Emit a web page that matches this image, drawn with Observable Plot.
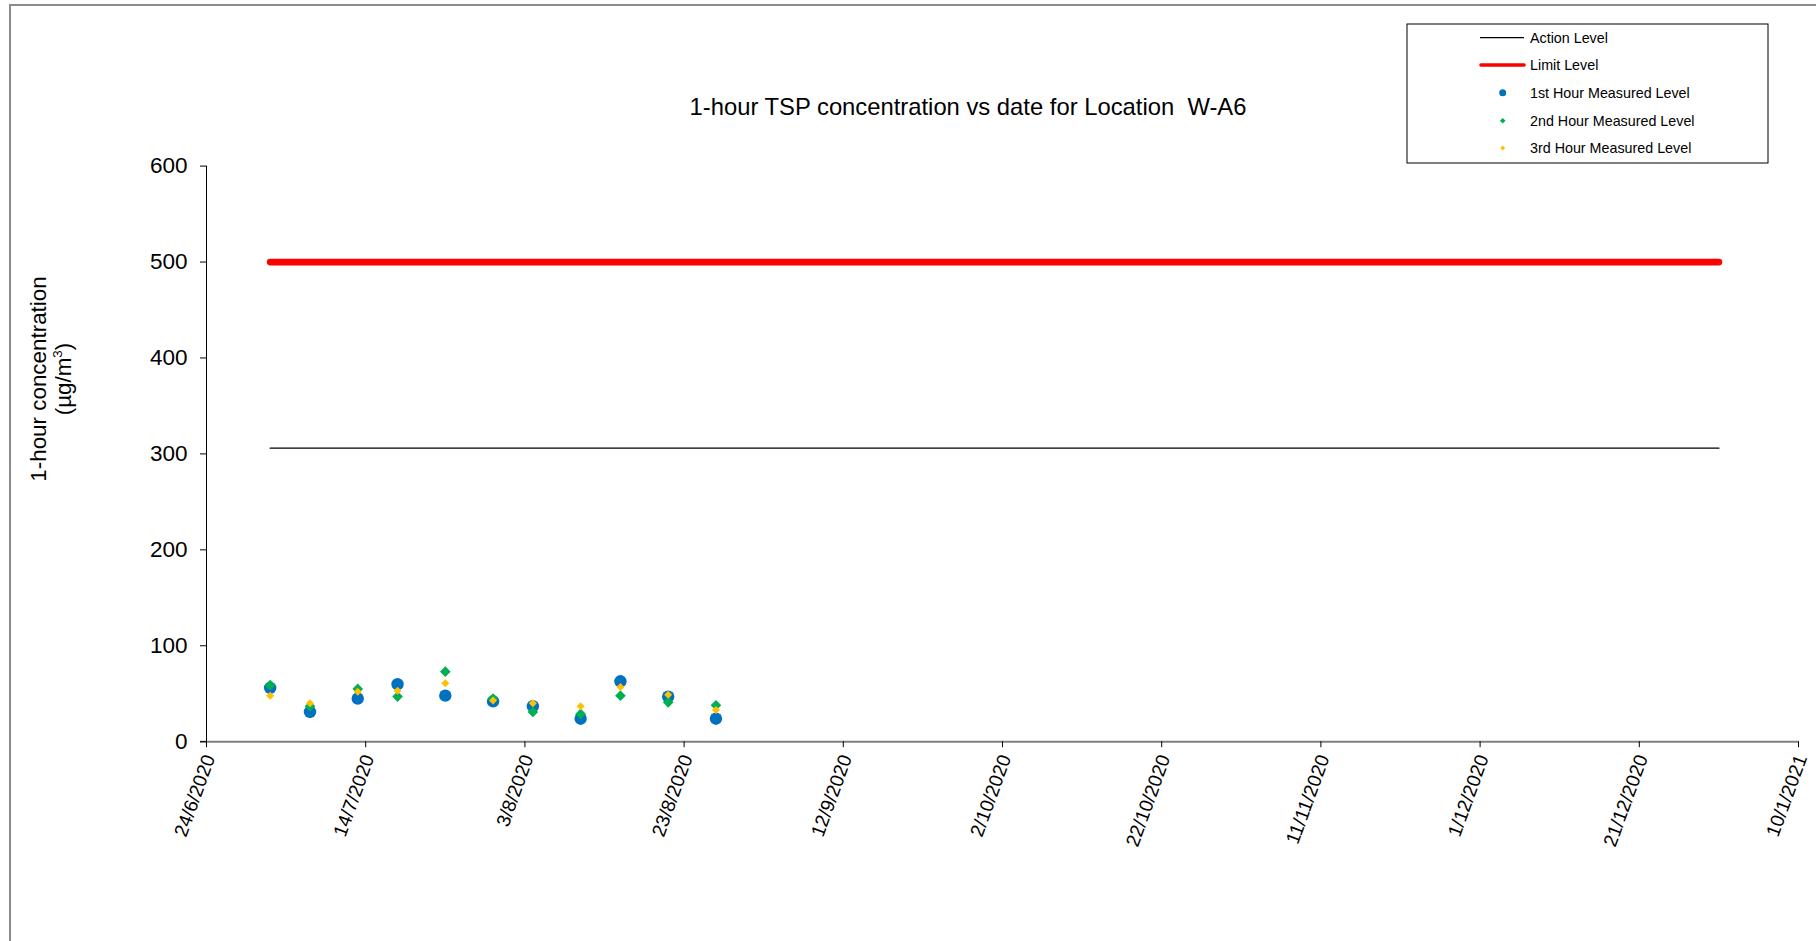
<!DOCTYPE html>
<html>
<head>
<meta charset="utf-8">
<script src="https://cdn.jsdelivr.net/npm/d3@7"></script>
<script src="https://cdn.jsdelivr.net/npm/@observablehq/plot@0.6"></script>
<style>
  body { margin: 0; background: #fff; font-family: "Liberation Sans", Arial, sans-serif; }
  #wrap { position: relative; width: 1816px; height: 941px; overflow: hidden; background: #fff; }
  #chart { position: absolute; left: 0; top: 0; }
  #border { position: absolute; left: 9px; top: 4px; width: 1900px; height: 1000px; border-left: 2px solid #8c8c8c; border-top: 2px solid #8c8c8c; box-sizing: border-box; }
  #title { position: absolute; left: 968px; top: 106.5px; transform: translate(-50%, -50%); white-space: pre; font-size: 23.8px; color: #000; }
  #ylabel { position: absolute; left: 51.4px; top: 379px; transform: translate(-50%, -50%) rotate(-90deg); white-space: nowrap; text-align: center; font-size: 22.4px; line-height: 25px; color: #000; }
  #legend { position: absolute; left: 0; top: 0; }
</style>
</head>
<body>
<div id="wrap">
  <div id="border"></div>
  <div id="chart"></div>
  <div id="title"></div>
  <div id="ylabel"></div>
  <svg id="legend" width="1816" height="200"></svg>
</div>
<script>
// ---- data ----
const titleText = "1-hour TSP concentration vs date for Location  W-A6";
const yLabelLines = ["1-hour concentration", "(µg/m³)"];
const sampleDates = ["2020-07-02", "2020-07-07", "2020-07-13", "2020-07-18", "2020-07-24", "2020-07-30",
                     "2020-08-04", "2020-08-10", "2020-08-15", "2020-08-21", "2020-08-27"];
const hour1 = [56, 31, 45, 60, 48, 42, 37, 24, 63, 47, 24];
const hour2 = [59, 37, 55, 47, 73, 45, 31, 29, 48, 41, 38];
const hour3 = [48, 40, 52, 53, 61, 43, 40, 37, 57, 49, 33];
const levelSpan = ["2020-07-02", "2020-12-31"];
const actionLevel = 306;
const limitLevel = 500;
const xTickDates = ["2020-06-24", "2020-07-14", "2020-08-03", "2020-08-23", "2020-09-12", "2020-10-02",
                    "2020-10-22", "2020-11-11", "2020-12-01", "2020-12-21", "2021-01-10"];
const yTicks = [0, 100, 200, 300, 400, 500, 600];
const legendLabels = ["Action Level", "Limit Level", "1st Hour Measured Level", "2nd Hour Measured Level", "3rd Hour Measured Level"];

// ---- build ----
const parse = d3.utcParse("%Y-%m-%d");
const fmt = d3.utcFormat("%-d/%-m/%Y");
const rows = vals => sampleDates.map((d, i) => ({date: parse(d), value: vals[i]}));
const levelRows = v => levelSpan.map(d => ({date: parse(d), value: v}));
const xTicks = xTickDates.map(parse);

const COLORS = {action: "#000000", limit: "#FF0000", h1: "#0070C0", h2: "#00B050", h3: "#FFC000"};

const chart = Plot.plot({
  width: 1816,
  height: 941,
  marginLeft: 206,
  marginRight: 18,
  marginTop: 165.6,
  marginBottom: 199.8,
  style: {fontFamily: "'Liberation Sans', Arial, sans-serif", background: "transparent", color: "#000", overflow: "visible"},
  x: {type: "utc", domain: [xTicks[0], xTicks[xTicks.length - 1]]},
  y: {domain: [0, 600]},
  marks: [
    Plot.ruleY([0], {stroke: "#808080", strokeWidth: 2, insetLeft: -6}),
    Plot.ruleX([xTicks[0]], {stroke: "#000", strokeWidth: 1}),
    Plot.axisY({ticks: yTicks, tickSize: 6, tickPadding: 13, fontSize: 22.5, label: null}),
    Plot.axisX({ticks: xTicks, tickSize: 6, tickFormat: () => "", label: null}),
    Plot.text(xTicks, {x: d => d, text: d => fmt(d), frameAnchor: "bottom", rotate: -70, textAnchor: "end",
                       lineAnchor: "middle", dx: 3, dy: 14, fontSize: 19.2, fill: "#000"}),
    Plot.line(levelRows(actionLevel), {x: "date", y: "value", stroke: COLORS.action, strokeWidth: 1.3}),
    Plot.line(levelRows(limitLevel), {x: "date", y: "value", stroke: COLORS.limit, strokeWidth: 6.7, strokeLinecap: "round"}),
    Plot.dot(rows(hour1), {x: "date", y: "value", symbol: "circle", r: 6.2, fill: COLORS.h1}),
    Plot.dot(rows(hour2), {x: "date", y: "value", symbol: "diamond2", r: 4.8, fill: COLORS.h2}),
    Plot.dot(rows(hour3), {x: "date", y: "value", symbol: "diamond2", r: 3.6, fill: COLORS.h3})
  ]
});
document.getElementById("chart").appendChild(chart);

document.getElementById("title").textContent = titleText;
document.getElementById("ylabel").innerHTML = yLabelLines.map(s => `<div>${s.replace("m³", "m<sup style='font-size:0.6em;vertical-align:0.7em;line-height:0'>3</sup>")}</div>`).join("");

// ---- legend ----
const lg = d3.select("#legend");
lg.append("rect").attr("x", 1407).attr("y", 24).attr("width", 361).attr("height", 139)
  .attr("fill", "#fff").attr("stroke", "#000").attr("stroke-width", 1);
const rowY = [37.7, 65, 92.7, 120.7, 148];
const symX = 1502.7;
lg.append("line").attr("x1", 1480).attr("x2", 1524).attr("y1", rowY[0]).attr("y2", rowY[0])
  .attr("stroke", COLORS.action).attr("stroke-width", 1.2);
lg.append("line").attr("x1", 1481).attr("x2", 1524).attr("y1", rowY[1]).attr("y2", rowY[1])
  .attr("stroke", COLORS.limit).attr("stroke-width", 3.6).attr("stroke-linecap", "round");
lg.append("circle").attr("cx", symX).attr("cy", rowY[2]).attr("r", 3.5).attr("fill", COLORS.h1);
lg.append("path").attr("d", d3.symbol(d3.symbolDiamond2, 20)()).attr("transform", `translate(${symX},${rowY[3]})`).attr("fill", COLORS.h2);
lg.append("path").attr("d", d3.symbol(d3.symbolDiamond2, 16)()).attr("transform", `translate(${symX},${rowY[4]})`).attr("fill", COLORS.h3);
legendLabels.forEach((t, i) => {
  lg.append("text").attr("x", 1530).attr("y", rowY[i]).attr("dy", "0.35em")
    .attr("font-size", 14.3).attr("font-family", "'Liberation Sans', Arial, sans-serif").attr("fill", "#000").text(t);
});
</script>
</body>
</html>
